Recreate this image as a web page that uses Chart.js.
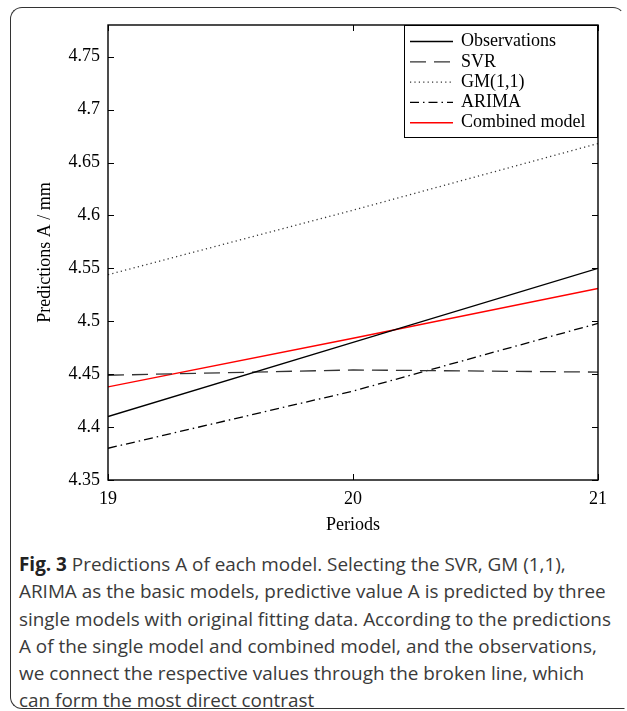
<!doctype html>
<html>
  <head>
    <title>Predictions A of each model</title>
    <script src="https://cdn.jsdelivr.net/npm/chart.js"></script>
    <style>
      body {
        margin: 0;
        background: #fff;
      }
      #frame {
        position: absolute;
        left: 10px;
        top: 7px;
        width: 613px;
        height: 700px;
        border: 1.6px solid #333;
        border-radius: 12px;
        border-right-color: transparent;
        border-bottom-right-radius: 0;
      }
      #wrap {
        position: absolute;
        left: 0;
        top: 0;
        width: 627px;
        height: 545px;
      }
      #caption {
        position: absolute;
        left: 19px;
        top: 551px;
        font-family: "Open Sans", sans-serif;
        font-size: 18.9px;
        line-height: 27.3px;
        color: #3a3a3a;
        white-space: nowrap;
      }
      #caption b {
        color: #222;
      }
    </style>
  </head>

  <body>
    <div id="frame"></div>
    <div id="wrap"><canvas id="lineChart"></canvas></div>
    <div id="caption">
      <b>Fig. 3</b> Predictions A of each model. Selecting the SVR, GM (1,1),<br />
      ARIMA as the basic models, predictive value A is predicted by three<br />
      single models with original fitting data. According to the predictions<br />
      A of the single model and combined model, and the observations,<br />
      we connect the respective values through the broken line, which<br />
      can form the most direct contrast
    </div>

    <script>
      // periods on the x axis
      var periods = [19, 20, 21];

      // values
      var observations = [4.41, 4.48, 4.55];
      var svr = [4.449, 4.454, 4.452];
      var gm11 = [4.544, 4.605, 4.668];
      var arima = [4.38, 4.434, 4.498];
      var combined = [4.438, 4.484, 4.531];

      var yTicks = [4.35, 4.4, 4.45, 4.5, 4.55, 4.6, 4.65, 4.7, 4.75];
      var xTicks = [19, 20, 21];

      var serif = "'Liberation Serif', serif";
      Chart.defaults.font.family = serif;
      Chart.defaults.font.size = 18;
      Chart.defaults.color = "#000";

      function points(values) {
        return periods.map(function (p, i) {
          return { x: p, y: values[i] };
        });
      }

      // inward ticks on all four sides plus the box round the plot
      var framePlugin = {
        id: "frame",
        afterDraw: function (chart) {
          var ctx = chart.ctx;
          var a = chart.chartArea;
          var xs = chart.scales.x;
          var ys = chart.scales.y;
          var len = 6;
          ctx.save();
          ctx.strokeStyle = "#000";
          ctx.lineWidth = 1;
          ctx.beginPath();
          yTicks.forEach(function (v) {
            var py = Math.round(ys.getPixelForValue(v)) + 0.5;
            ctx.moveTo(a.left, py);
            ctx.lineTo(a.left + len, py);
            ctx.moveTo(a.right, py);
            ctx.lineTo(a.right - len, py);
          });
          xTicks.forEach(function (v) {
            var px = Math.round(xs.getPixelForValue(v)) + 0.5;
            ctx.moveTo(px, a.bottom);
            ctx.lineTo(px, a.bottom - len);
            ctx.moveTo(px, a.top);
            ctx.lineTo(px, a.top + len);
          });
          ctx.stroke();
          ctx.lineWidth = 1.4;
          ctx.strokeRect(a.left, a.top, a.right - a.left, a.bottom - a.top);
          ctx.restore();
        },
      };

      // legend box in the top right corner
      var legendPlugin = {
        id: "boxLegend",
        afterDraw: function (chart) {
          var ctx = chart.ctx;
          var a = chart.chartArea;
          var w = 194;
          var h = 113;
          var x0 = a.right - w;
          var y0 = a.top;
          ctx.save();
          ctx.fillStyle = "#fff";
          ctx.fillRect(x0, y0, w, h);
          ctx.strokeStyle = "#000";
          ctx.lineWidth = 1;
          ctx.strokeRect(x0 + 0.5, y0 + 0.5, w - 1, h - 1);
          ctx.font = "18px " + serif;
          ctx.textBaseline = "middle";
          chart.data.datasets.forEach(function (ds, i) {
            var cy = y0 + 16.5 + i * 20.3;
            ctx.strokeStyle = ds.borderColor;
            ctx.lineWidth = ds.borderWidth;
            ctx.setLineDash(ds.borderDash || []);
            ctx.beginPath();
            ctx.moveTo(x0 + 6, cy);
            ctx.lineTo(x0 + 49, cy);
            ctx.stroke();
            ctx.setLineDash([]);
            ctx.fillStyle = "#000";
            ctx.fillText(ds.label, x0 + 57, cy);
          });
          ctx.restore();
        },
      };

      var ctx = document.getElementById("lineChart").getContext("2d");
      var chart = new Chart(ctx, {
        type: "line",
        data: {
          datasets: [
            {
              label: "Observations",
              data: points(observations),
              borderColor: "#000",
              borderWidth: 1.3,
            },
            {
              label: "SVR",
              data: points(svr),
              borderColor: "#333",
              borderWidth: 1.3,
              borderDash: [16, 8],
            },
            {
              label: "GM(1,1)",
              data: points(gm11),
              borderColor: "#333",
              borderWidth: 1.3,
              borderDash: [1.2, 3.2],
            },
            {
              label: "ARIMA",
              data: points(arima),
              borderColor: "#000",
              borderWidth: 1.3,
              borderDash: [9, 4, 1.5, 4],
            },
            {
              label: "Combined model",
              data: points(combined),
              borderColor: "#ff0000",
              borderWidth: 1.4,
            },
          ],
        },
        options: {
          responsive: true,
          maintainAspectRatio: false,
          animation: false,
          elements: {
            point: { radius: 0 },
            line: { tension: 0, fill: false },
          },
          layout: {
            padding: { left: 30, right: 29, top: 25, bottom: 0 },
          },
          plugins: {
            legend: { display: false },
            tooltip: { enabled: false },
          },
          scales: {
            x: {
              type: "linear",
              min: 19,
              max: 21,
              afterBuildTicks: function (scale) {
                scale.ticks = xTicks.map(function (v) {
                  return { value: v };
                });
              },
              afterFit: function (scale) {
                scale.height = 65;
              },
              grid: { display: false, drawTicks: false },
              border: { display: false },
              ticks: {
                color: "#000",
                padding: 8,
                maxRotation: 0,
                font: { family: serif, size: 18 },
              },
              title: {
                display: true,
                text: "Periods",
                color: "#000",
                font: { family: serif, size: 18 },
                padding: { top: 0, bottom: 9 },
              },
            },
            y: {
              min: 4.35,
              max: 4.78,
              afterBuildTicks: function (scale) {
                scale.ticks = yTicks.map(function (v) {
                  return { value: v };
                });
              },
              afterFit: function (scale) {
                scale.width = 78;
              },
              grid: { display: false, drawTicks: false },
              border: { display: false },
              ticks: {
                color: "#000",
                padding: 8,
                font: { family: serif, size: 18 },
                callback: function (v) {
                  return String(+Number(v).toFixed(2));
                },
              },
              title: {
                display: true,
                text: "Predictions A / mm",
                color: "#000",
                font: { family: serif, size: 18 },
                padding: { top: 4, bottom: 0 },
              },
            },
          },
        },
        plugins: [framePlugin, legendPlugin],
      });
    </script>
  </body>
</html>
